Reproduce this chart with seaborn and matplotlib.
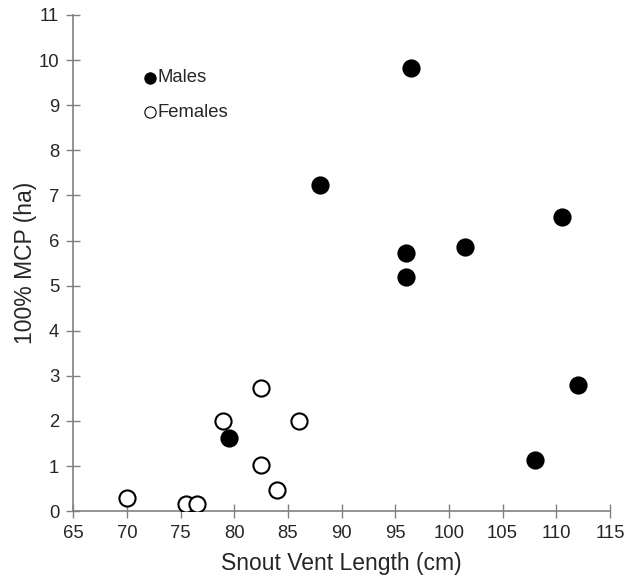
import seaborn as sns
import matplotlib.pyplot as plt

# snout vent length (cm) and 100% MCP home range (ha)
male_svl = [79.5, 88, 96, 96, 96.5, 101.5, 108, 110.5, 112]
male_mcp = [1.62, 7.23, 5.72, 5.18, 9.82, 5.86, 1.14, 6.52, 2.79]
female_svl = [70, 75.5, 76.5, 79, 82.5, 82.5, 84, 86]
female_mcp = [0.29, 0.15, 0.15, 2.01, 2.74, 1.03, 0.48, 2.01]

x_ticks = list(range(65, 116, 5))
y_ticks = list(range(0, 12))

sns.set_style('white')
plt.rcParams['font.family'] = ['Liberation Sans', 'DejaVu Sans']

fig, ax = plt.subplots(figsize=(6.25, 5.75), dpi=100)
fig.subplots_adjust(left=0.117, right=0.976, bottom=0.111, top=0.974)

sns.scatterplot(x=male_svl, y=male_mcp, color='black', edgecolor='black',
                linewidth=1.5, s=135, label='Males', ax=ax, zorder=3)
sns.scatterplot(x=female_svl, y=female_mcp, color='white', edgecolor='black',
                linewidth=1.5, s=135, label='Females', ax=ax, zorder=3)

ax.set_xlim(65, 115)
ax.set_ylim(0, 11)
ax.set_xticks(x_ticks)
ax.set_yticks(y_ticks)
ax.tick_params(bottom=True, left=True, direction='inout', length=10, width=1,
               color='#808080', labelsize=13.3, pad=5)
sns.despine(ax=ax)
for s in ['left', 'bottom']:
    ax.spines[s].set_color('#808080')
    ax.spines[s].set_linewidth(1.2)

ax.set_xlabel('Snout Vent Length (cm)', fontsize=16.5, labelpad=7)
ax.set_ylabel('100% MCP (ha)', fontsize=16.5, labelpad=1)

leg = ax.legend(loc='upper left', bbox_to_anchor=(0.115, 0.905), frameon=False,
                markerscale=0.7, handletextpad=0.0, handlelength=0.8,
                labelspacing=0.95, fontsize=13.3, borderaxespad=0)
for h in leg.legend_handles:
    h.set_linewidth(0.8)

plt.savefig('out.png', dpi=100)
plt.close()
